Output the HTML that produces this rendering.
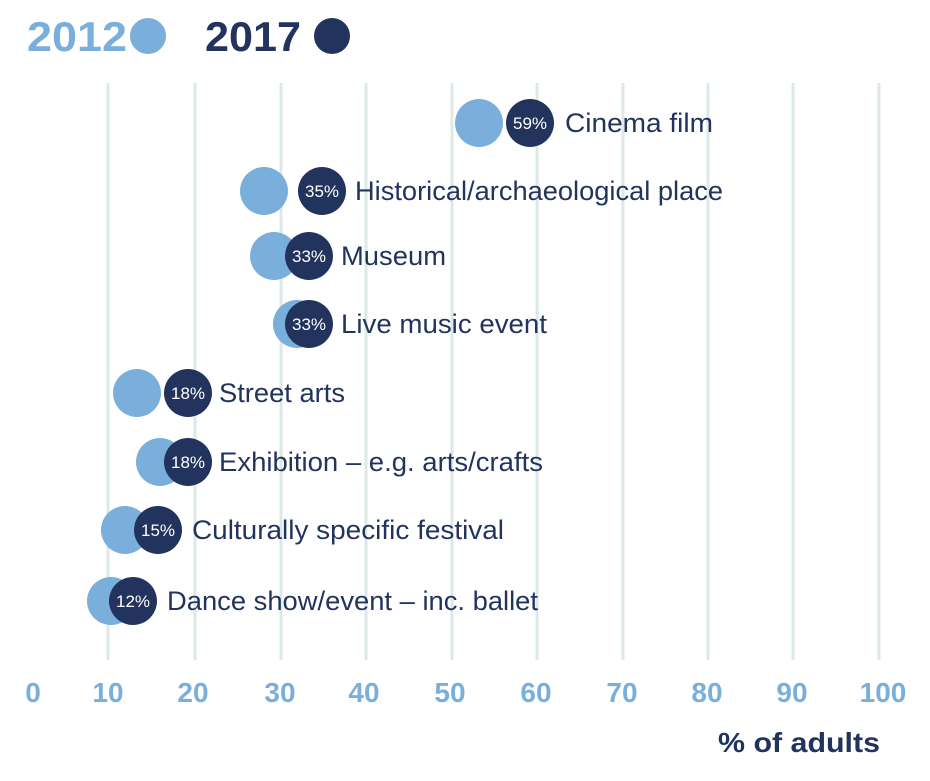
<!DOCTYPE html>
<html><head><style>
body{margin:0;width:930px;height:776px;background:#fff;overflow:hidden;font-family:"Liberation Sans",sans-serif}
</style></head><body>
<svg width="930" height="776" xmlns="http://www.w3.org/2000/svg" font-family="Liberation Sans, sans-serif">
<text x="27" y="51" font-size="42" font-weight="bold" fill="#7aaedb" textLength="100" lengthAdjust="spacingAndGlyphs">2012</text>
<circle cx="148" cy="36" r="18" fill="#7aaedb"/>
<text x="205" y="51" font-size="42" font-weight="bold" fill="#22335e" textLength="96" lengthAdjust="spacingAndGlyphs">2017</text>
<circle cx="332" cy="36" r="18" fill="#22335e"/>
<g stroke="#dde9e6" stroke-width="3">
<line x1="108" y1="83" x2="108" y2="660"/><line x1="195" y1="83" x2="195" y2="660"/>
<line x1="281" y1="83" x2="281" y2="660"/><line x1="366" y1="83" x2="366" y2="660"/>
<line x1="452" y1="83" x2="452" y2="660"/><line x1="537" y1="83" x2="537" y2="660"/>
<line x1="623" y1="83" x2="623" y2="660"/><line x1="708" y1="83" x2="708" y2="660"/>
<line x1="793" y1="83" x2="793" y2="660"/><line x1="879" y1="83" x2="879" y2="660"/>
</g>
<g fill="#7aaedb">
<circle cx="479" cy="123" r="24"/><circle cx="264" cy="191" r="24"/>
<circle cx="274" cy="256" r="24"/><circle cx="297" cy="324" r="24"/>
<circle cx="137" cy="393" r="24"/><circle cx="160" cy="462" r="24"/>
<circle cx="125" cy="530" r="24"/><circle cx="111" cy="601" r="24"/>
</g>
<g fill="#22335e">
<circle cx="530" cy="123" r="24"/><circle cx="322" cy="191" r="24"/>
<circle cx="309" cy="256" r="24"/><circle cx="309" cy="324" r="24"/>
<circle cx="188" cy="393" r="24"/><circle cx="188" cy="462" r="24"/>
<circle cx="158" cy="530" r="24"/><circle cx="133" cy="601" r="24"/>
</g>
<g fill="#fff" font-size="17" text-anchor="middle">
<text x="530" y="129">59%</text><text x="322" y="197">35%</text>
<text x="309" y="262">33%</text><text x="309" y="330">33%</text>
<text x="188" y="399">18%</text><text x="188" y="468">18%</text>
<text x="158" y="536">15%</text><text x="133" y="607">12%</text>
</g>
<g fill="#22335e" font-size="27">
<text x="565" y="132" textLength="148" lengthAdjust="spacingAndGlyphs">Cinema film</text>
<text x="355" y="200" textLength="368" lengthAdjust="spacingAndGlyphs">Historical/archaeological place</text>
<text x="341" y="265" textLength="105" lengthAdjust="spacingAndGlyphs">Museum</text>
<text x="341" y="333" textLength="206" lengthAdjust="spacingAndGlyphs">Live music event</text>
<text x="219" y="402" textLength="126" lengthAdjust="spacingAndGlyphs">Street arts</text>
<text x="219" y="471" textLength="324" lengthAdjust="spacingAndGlyphs">Exhibition – e.g. arts/crafts</text>
<text x="192" y="539" textLength="312" lengthAdjust="spacingAndGlyphs">Culturally specific festival</text>
<text x="167" y="610" textLength="371" lengthAdjust="spacingAndGlyphs">Dance show/event – inc. ballet</text>
</g>
<g fill="#7aaedb" font-size="28" font-weight="bold" text-anchor="middle">
<text x="33" y="702">0</text><text x="108" y="702">10</text><text x="193" y="702">20</text>
<text x="280" y="702">30</text><text x="364" y="702">40</text><text x="450" y="702">50</text>
<text x="536" y="702">60</text><text x="622" y="702">70</text><text x="707" y="702">80</text>
<text x="792" y="702">90</text><text x="883" y="702">100</text>
</g>
<text x="718" y="752" font-size="28" font-weight="bold" fill="#22335e" textLength="162" lengthAdjust="spacingAndGlyphs">% of adults</text>
</svg>
</body></html>
